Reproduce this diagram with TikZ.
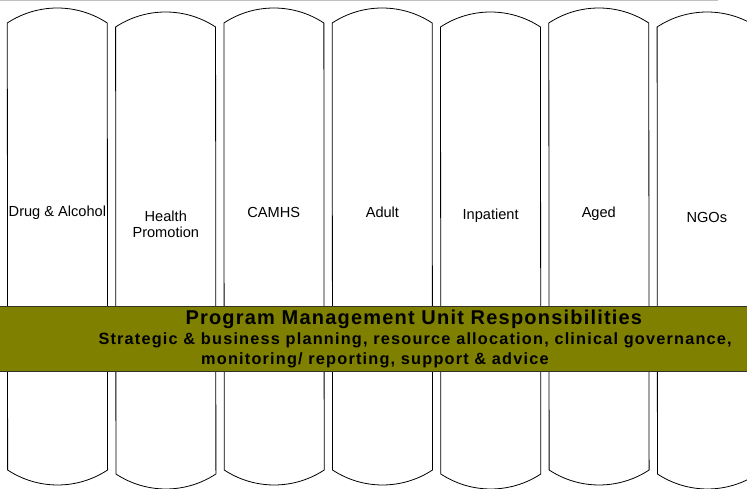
\documentclass[tikz,border=0pt]{standalone}
\usepackage{fontspec}
\setmainfont{Liberation Sans}
\newfontfamily\bandtitlefont[LetterSpace=6.0]{Liberation Sans}
\newfontfamily\bandtextfont[LetterSpace=7.3]{Liberation Sans}
\definecolor{bandolive}{RGB}{128,128,0}
\definecolor{bandedge}{RGB}{50,50,40}
\definecolor{topgray}{RGB}{192,192,192}
\tikzset{
  colshape/.style={draw=black, line width=0.8pt, fill=white},
  lbl/.style={inner sep=0pt, anchor=base, font=\fontsize{14.6}{15.5}\selectfont, align=center},
  bandbox/.style={draw=bandedge, line width=1pt, fill=bandolive, inner sep=0pt, anchor=north west},
  bandtitle/.style={inner sep=0pt, anchor=base west, font=\bandtitlefont\bfseries\fontsize{20}{24}\selectfont},
  bandtext/.style={inner sep=0pt, anchor=base west, font=\bandtextfont\bfseries\fontsize{16.3}{20}\selectfont},
  topline/.style={draw=topgray, line width=1pt}
}
\begin{document}
\begin{tikzpicture}[x=1pt,y=1pt]
\useasboundingbox (0,0) rectangle (747,489);
\clip (0,0) rectangle (747,489);
\coordinate (tl) at (0,488.5);
\coordinate (tr) at (718,488.5);
\draw[topline] (tl) -- (tr);
\foreach \i/\tc/\bc in {0/23/470, 1/27/474, 2/23/470, 3/23/470, 4/27/474, 5/23/470, 6/27/474} {
  \pgfmathsetmacro\xl{7.3+108.3*\i}
  \draw[colshape] (\xl, 489-\tc) arc[start angle=123.4, end angle=56.6, radius=90.8]
    -- (\xl+100.3, 489-\bc) arc[start angle=-56.6, end angle=-123.4, radius=90.8] -- cycle;
}
\node[lbl] (drug) at (57.4, 489-216.7) {Drug \& Alcohol};
\node[lbl] (health) at (165.8, 489-237.5) {Health\\Promotion};
\node[lbl] (camhs) at (273.8, 489-217.3) {CAMHS};
\node[lbl] (adult) at (382.4, 489-217.3) {Adult};
\node[lbl] (inpatient) at (490.6, 489-219.3) {Inpatient};
\node[lbl] (aged) at (598.8, 489-217.3) {Aged};
\node[lbl] (ngos) at (706.8, 489-222.3) {NGOs};
\node[bandbox, minimum width=749.5pt, minimum height=65pt] (band) at (-3, 489-305.7) {};
\node[bandtitle] (pmutitle) at (185.3, 489-325) {Program Management Unit Responsibilities};
\node[bandtext] (pmuline1) at (98.3, 489-345) {Strategic \& business planning, resource allocation, clinical governance,};
\node[bandtext] (pmuline2) at (201, 489-365) {monitoring/ reporting, support \& advice};
\end{tikzpicture}
\end{document}
